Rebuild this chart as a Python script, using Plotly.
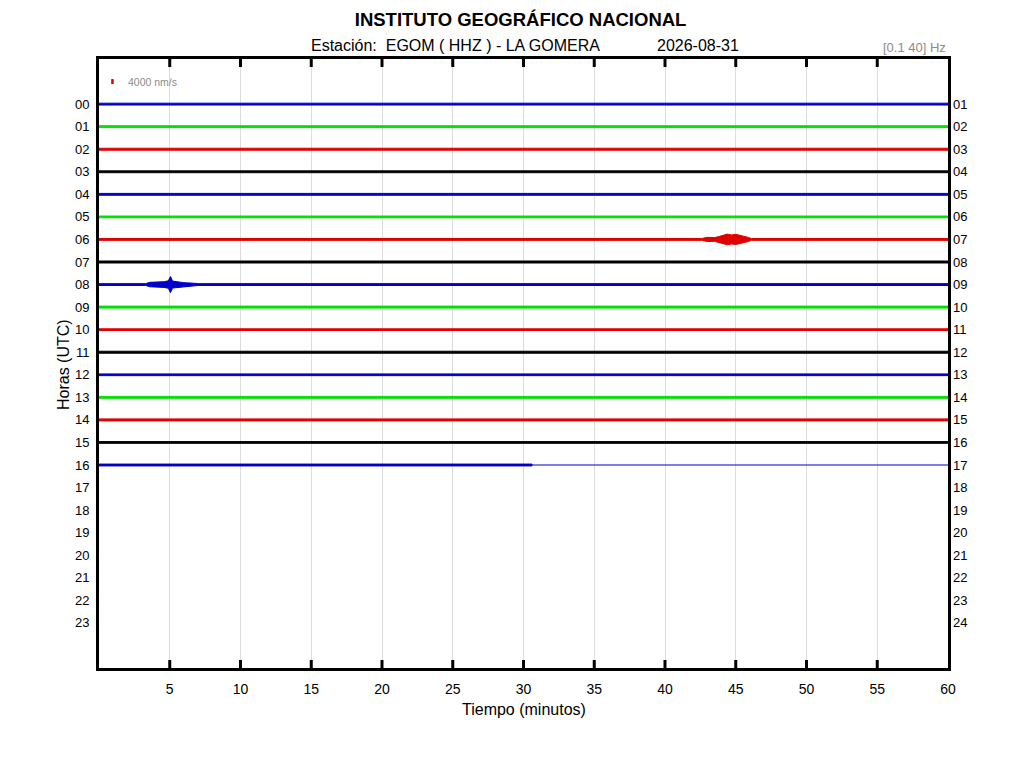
import plotly.graph_objects as go

# helicorder data (amplitudes in nm/s)
hours = list(range(17))
trace_colors = ["#0000c8", "#00e000", "#e00000", "#000000"]
base_amp = [750, 750, 800, 750, 750, 700, 750, 800,
            750, 800, 700, 800, 700, 750, 800, 700, 750]
data_end = [60] * 16 + [30.6]

ev06_min = [42.6, 43.0, 43.5, 43.8, 44.1, 44.4, 44.7, 45.0, 45.3, 45.6, 45.9, 46.1]
ev06_amp = [750, 1700, 1500, 2300, 3400, 4300, 3600, 4100, 3300, 2600, 1600, 750]
ev08_min = [3.3, 3.6, 4.2, 4.6, 4.9, 5.05, 5.2, 5.6, 6.0, 6.5, 7.0]
ev08_amp = [750, 1800, 2000, 2300, 3000, 6500, 2800, 2000, 1500, 1200, 750]
events = {6: (ev06_min, ev06_amp), 8: (ev08_min, ev08_amp)}

scale_nms = 4000
gain = 0.22 / scale_nms  # hour-units per nm/s

fig = go.Figure()

for h in hours:
    color = trace_colors[h % 4]
    xs = [0]
    amps = [base_amp[h]]
    if h in events:
        xs += events[h][0]
        amps += events[h][1]
    xs.append(data_end[h])
    amps.append(base_amp[h])
    upper = [h - a * gain for a in amps]
    lower = [h + a * gain for a in amps]
    fig.add_trace(go.Scatter(
        x=xs + xs[::-1], y=upper + lower[::-1],
        fill="toself", fillcolor=color, mode="lines",
        line=dict(color=color, width=1), hoverinfo="skip", showlegend=False
    ))
    if data_end[h] < 60:
        fig.add_trace(go.Scatter(
            x=[data_end[h], 60], y=[h, h], mode="lines",
            line=dict(color=color, width=1), hoverinfo="skip", showlegend=False
        ))

# amplitude scale bar
fig.add_trace(go.Scatter(
    x=[0.95, 0.95], y=[-1 - scale_nms * gain / 2, -1 + scale_nms * gain / 2],
    mode="lines", line=dict(color="#e00000", width=2.5),
    hoverinfo="skip", showlegend=False
))
# dummy trace so the right axis gets drawn
fig.add_trace(go.Scatter(x=[None], y=[None], yaxis="y2", showlegend=False))

hour_vals = list(range(24))
left_labels = [f"{i:02d}" for i in hour_vals]
right_labels = [f"{i + 1:02d}" for i in hour_vals]
x_ticks = list(range(5, 61, 5))

# page body adds an 8px margin, so work in screen pixels minus that
OFF = 8
W, H = 1024, 768
L, R, T, B = 99 - OFF, 76 + OFF, 59 - OFF, 100 + OFF
pw, ph = W - L - R, H - T - B


def px(x):
    return (x - OFF - L) / pw


def py(y):
    return (H - B - (y - OFF)) / ph


font = "Liberation Sans, Arial, sans-serif"

fig.update_layout(
    width=W, height=H,
    margin=dict(l=L, r=R, t=T, b=B),
    paper_bgcolor="white", plot_bgcolor="white",
    font=dict(family=font, color="black", size=13),
    xaxis=dict(
        range=[0, 60], tickvals=x_ticks, ticks="",
        showline=True, linecolor="black", linewidth=3, mirror=True,
        showgrid=True, gridcolor="#dddddd", gridwidth=1,
        zeroline=False, tickfont=dict(size=14), ticklabelstandoff=6,
        automargin=False
    ),
    yaxis=dict(
        range=[25, -2], tickvals=hour_vals, ticktext=left_labels, ticks="",
        showline=True, linecolor="black", linewidth=3, mirror=True,
        showgrid=False, zeroline=False, tickfont=dict(size=13),
        ticklabelstandoff=4, automargin=False
    ),
    yaxis2=dict(
        range=[25, -2], tickvals=hour_vals, ticktext=right_labels, ticks="",
        overlaying="y", side="right", showgrid=False, zeroline=False,
        showline=False, tickfont=dict(size=13), ticklabelstandoff=4,
        automargin=False
    ),
    title=dict(
        text="<b>INSTITUTO GEOGRÁFICO NACIONAL</b>", x=px(524), xanchor="center",
        y=1 - (20 - OFF) / H, yanchor="middle", font=dict(size=18.5, family=font)
    ),
)

# inward ticks on top and bottom edges of the frame
tick_len = 8 / ph
for t in x_ticks[:-1]:
    for y0, y1 in [(0, tick_len), (1 - tick_len, 1)]:
        fig.add_shape(type="line", xref="x", yref="paper", x0=t, x1=t,
                      y0=y0, y1=y1, line=dict(color="black", width=3),
                      layer="above")

fig.add_annotation(x=px(455), y=py(46), xref="paper", yref="paper",
                   text="Estación:  EGOM ( HHZ ) - LA GOMERA", showarrow=False,
                   font=dict(size=16), xanchor="center", yanchor="middle")
fig.add_annotation(x=px(698), y=py(46), xref="paper", yref="paper",
                   text="2026-08-31", showarrow=False,
                   font=dict(size=16), xanchor="center", yanchor="middle")
fig.add_annotation(x=1.0, y=py(48), xref="paper", yref="paper",
                   text="[0.1 40] Hz", showarrow=False,
                   font=dict(size=13, color="#8c8c8c"), xanchor="right", yanchor="middle")
fig.add_annotation(x=px(126), y=py(82), xref="paper", yref="paper",
                   text="4000 nm/s", showarrow=False,
                   font=dict(size=10.5, color="#8c8c8c"), xanchor="left", yanchor="middle")
fig.add_annotation(x=px(524), y=py(709), xref="paper", yref="paper",
                   text="Tiempo (minutos)", showarrow=False,
                   font=dict(size=16), xanchor="center", yanchor="middle")
fig.add_annotation(x=px(63), y=py(365), xref="paper", yref="paper",
                   text="Horas (UTC)", showarrow=False, textangle=-90,
                   font=dict(size=16), xanchor="center", yanchor="middle")

fig.write_html("out.html")
